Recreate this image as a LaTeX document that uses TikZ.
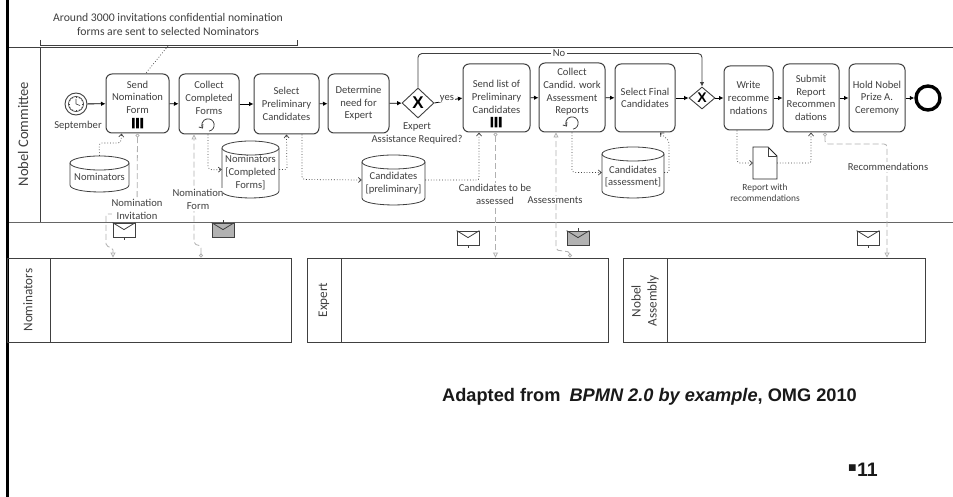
\documentclass[tikz,border=0pt]{standalone}
\usepackage{fontspec}
\setmainfont{Carlito}
\newfontfamily\arialf{Liberation Sans}
\usetikzlibrary{arrows.meta,shapes.geometric,calc}
\definecolor{ink}{HTML}{404040}
\definecolor{msgc}{HTML}{B0B0B0}
\tikzset{
 lbl/.style={text=ink,font=\fontsize{10.6}{12.7}\selectfont,align=center,inner sep=0pt},
 tasknode/.style={draw=ink,line width=1pt,rounded corners=6pt,fill=white,text=ink,font=\fontsize{10.6}{12.7}\selectfont,align=center,inner sep=0pt},
 gate/.style={diamond,draw=ink,line width=.9pt,fill=white,inner sep=0pt,font=\arialf\bfseries\fontsize{17}{17}\selectfont},
 seq/.style={draw=black,line width=.8pt,-{Latex[length=4.5pt,width=4.5pt]}},
 seqg/.style={draw=ink,line width=.9pt,rounded corners=4pt},
 dots/.style={draw=ink,line width=.7pt,dash pattern=on .8pt off 2pt,-{Straight Barb[length=3pt,width=5pt,open]}},
 dotp/.style={draw=ink,line width=.7pt,dash pattern=on .8pt off 2pt},
 msg/.style={draw=msgc,line width=.8pt,dash pattern=on 6pt off 3pt,rounded corners=2pt,{Circle[open,length=4pt,width=4pt,fill=white]}-{Triangle[open,length=5pt,width=5pt,fill=white]}},
 envw/.style={rectangle,draw=ink,line width=.8pt,fill=white,minimum width=22pt,minimum height=14pt,inner sep=0pt},
 envg/.style={rectangle,draw=ink,line width=.8pt,fill=black!30,minimum width=22pt,minimum height=14pt,inner sep=0pt},
 pool/.style={draw=ink,line width=.9pt,rectangle,inner sep=0pt},
 db/.style={rectangle,inner sep=0pt},
}
\newcommand{\dbshape}[5]{% name x1 y1 x2 y2
 \node[db,minimum width=#4pt-#2pt,minimum height=#5pt-#3pt] (#1) at ({(#2+#4)/2},{(#3+#5)/2}) {};
 \draw[ink,line width=.8pt,fill=white] (#2,#3+7) -- (#2,#5-7) .. controls (#2,#5+2.3) and (#4,#5+2.3) .. (#4,#5-7) -- (#4,#3+7);
 \draw[ink,line width=.8pt,fill=white] ({(#2+#4)/2},#3+7) ellipse [x radius={(#4-#2)/2},y radius=7];
}
\newcommand{\envflap}[1]{\draw[ink,line width=.8pt] (#1.north west) -- ([yshift=-7pt]#1.north) -- (#1.north east);}
\newcommand{\barsat}[2]{\fill[black] (#1-5.5,#2-5) rectangle ++(2.6,10.5) (#1-1.3,#2-5) rectangle ++(2.6,10.5) (#1+2.9,#2-5) rectangle ++(2.6,10.5);}
\newcommand{\loopat}[2]{\draw[ink,line width=.8pt,-{Straight Barb[length=3pt,width=5pt]}] (#1,#2) ++(80:6.2) arc[start angle=80,end angle=-215,radius=6.2];}
\begin{document}
\begin{tikzpicture}[x=1pt,y=-1pt]
\useasboundingbox (0,0) rectangle (953,497);
\fill[white] (0,0) rectangle (953,497);
% frame
\fill[black] (6,0) rectangle (9,497);
\coordinate (poolTL) at (9,47.5); \coordinate (poolTR) at (953,47.5);
\coordinate (poolBL) at (9,222.5); \coordinate (poolBR) at (953,222.5);
\coordinate (headT) at (40,47.5); \coordinate (headB) at (40,222.5);
\draw[ink,line width=.9pt] (poolTL) -- (poolTR);
\draw[ink!80,line width=1.3pt] (poolBL) -- (poolBR);
\draw[ink,line width=.9pt] (headT) -- (headB);
\node[lbl,rotate=90,font=\fontsize{14.6}{14}\selectfont] (committee) at (23,134) {Nobel Committee};
% annotation
\node[lbl,font=\fontsize{11.7}{14}\selectfont] (anno) at (168,24) {Around 3000 invitations confidential nomination\\forms are sent to selected Nominators};
\coordinate (brL) at (40,40); \coordinate (brLb) at (40,45); \coordinate (brRb) at (297,45); \coordinate (brR) at (297,40); \coordinate (brM) at (168,46);
\draw[ink,line width=.8pt] (brL) -- (brLb) -- (brRb) -- (brR);
% lower pools
\node[pool,minimum width=284pt,minimum height=84pt] (poolN) at (149,300) {};
\node[pool,minimum width=301pt,minimum height=84pt] (poolE) at (457.5,300) {};
\node[pool,minimum width=302pt,minimum height=84pt] (poolA) at (774,300) {};
\coordinate (nA) at (50.5,258); \coordinate (nB) at (50.5,342);
\coordinate (eA) at (341,258); \coordinate (eB) at (341,342);
\coordinate (aA) at (667,258); \coordinate (aB) at (667,342);
\draw[ink,line width=.9pt] (nA) -- (nB) (eA) -- (eB) (aA) -- (aB);
\node[lbl,rotate=90,font=\fontsize{13.2}{15}\selectfont] (nomL) at (28,300) {Nominators};
\node[lbl,rotate=90,font=\fontsize{13.2}{15}\selectfont] (expL) at (324,300) {Expert};
\node[lbl,rotate=90,font=\fontsize{13.2}{16}\selectfont] (asmL) at (645,301) {Nobel\\Assembly};
% data stores
\dbshape{dbNom}{70}{156}{129}{192}
\dbshape{dbComp}{222}{141}{279}{198}
\dbshape{dbPrel}{362}{155}{425}{205}
\dbshape{dbAss}{602}{147}{664}{198}
\node[lbl] (dbNomT) at (99.5,177) {Nominators};
\node[lbl] (dbCompT) at (250.5,172.7) {Nominators\\{[Completed}\\Forms]};
\node[lbl] (dbPrelT) at (393.5,183.5) {Candidates\\{[preliminary]}};
\node[lbl] (dbAssT) at (633,176.5) {Candidates\\{[assessment]}};
% events
\node[circle,draw=ink,line width=.9pt,fill=white,minimum size=22pt,inner sep=0pt] (start) at (76,104) {};
\node[circle,draw=ink,line width=.7pt,minimum size=15pt,inner sep=0pt] (clock) at (76,104) {};
\draw[ink,line width=.6pt] (clock.center) -- ++(0,-5) (clock.center) -- ++(4,1.5);
\foreach \a in {0,30,...,330}{\draw[ink,line width=.4pt] (clock.center) ++(\a:6.2) -- ++(\a:1.2);}
\node[lbl] (sept) at (78,126) {September};
\node[circle,draw=black,line width=3.4pt,fill=white,minimum size=24pt,inner sep=0pt] (endev) at (928,98) {};
% tasks
\node[tasknode,minimum width=63pt,minimum height=59pt] (send) at (137.5,103.5) {Send\\Nomination\\Form\\~};
\node[tasknode,minimum width=60pt,minimum height=60pt] (collect) at (209,104) {Collect\\Completed\\Forms\\~};
\node[tasknode,minimum width=65pt,minimum height=60pt] (select) at (286.5,104) {Select\\Preliminary\\Candidates};
\node[tasknode,minimum width=61pt,minimum height=59pt] (determine) at (358.5,103.5) {Determine\\need for\\Expert};
\node[gate,shape aspect=1.07,minimum width=32pt,minimum height=30pt] (gwA) at (418,103) {X};
\node[tasknode,minimum width=67pt,minimum height=68pt] (sendlist) at (496.5,98) {\raisebox{2pt}{Send list of}\\\raisebox{2pt}{Preliminary}\\\raisebox{2pt}{Candidates}};
\node[tasknode,minimum width=66pt,minimum height=69pt] (candid) at (572,97.5) {Collect\\Candid. work\\Assessment\\Reports\\~};
\node[tasknode,minimum width=60pt,minimum height=68pt] (final) at (645,98) {Select Final\\Candidates};
\node[gate,shape aspect=1.18,minimum width=26pt,minimum height=22pt,font=\arialf\bfseries\fontsize{14}{14}\selectfont] (gwB) at (702,98) {X};
\node[tasknode,minimum width=49pt,minimum height=64pt] (write) at (748.5,98) {Write\\recomme\\ndations};
\node[tasknode,minimum width=56pt,minimum height=68pt] (submit) at (811,98) {Submit\\Report\\Recommen\\dations};
\node[tasknode,minimum width=56pt,minimum height=68pt] (hold) at (877,98) {Hold Nobel\\Prize A.\\Ceremony};
\barsat{137.5}{123}
\barsat{496}{122}
\loopat{208}{125}
\loopat{572}{123}
% document
\coordinate (docA) at (753,147); \coordinate (docB) at (768,147); \coordinate (docC) at (777,156); \coordinate (docD) at (777,179); \coordinate (docE) at (753,179);
\draw[black!85,line width=.9pt,fill=white] (docA) -- (docB) -- (docC) -- (docD) -- (docE) -- cycle;
\coordinate (docF) at (768,156);
\draw[ink,line width=.7pt] (docB) -- (docF) -- (docC);
\node[lbl,font=\fontsize{9.4}{11}\selectfont] (docL) at (765,192.5) {Report with\\recommendations};
% sequence flows
\draw[seq] (start) -- (send);
\draw[seq] (send) -- (collect);
\draw[seq] (collect) -- (select);
\draw[seq] (select) -- (determine);
\draw[seq] (determine) -- (gwA);
\draw[seq] (gwA.east) -- (sendlist.west);
\draw[seq] (sendlist) -- (candid);
\draw[seq] (candid) -- (final);
\draw[seq] (final) -- (gwB);
\draw[seq] (gwB) -- (write);
\draw[seq] (write) -- (submit);
\draw[seq] (submit) -- (hold);
\draw[seq] (hold) -- (endev);
\coordinate (noA) at (418,53.5); \coordinate (noB) at (702,53.5);
\draw[seqg,-{Latex[length=4.5pt,width=4.5pt]}] (gwA.north) -- (noA) -- (noB) -- (gwB.north);
\node[lbl,fill=white,inner xsep=2pt] (noL) at (559,53) {No};
\node[lbl,fill=white,inner xsep=1pt] (yesL) at (447,99) {yes};
\node[lbl] (gwAL) at (417,133.5) {Expert\\Assistance Required?};
% data associations
\draw[dotp] (brM) -- (send.75);
\coordinate (w1) at (99,143); \coordinate (w2) at (121,143);
\draw[dots,rounded corners=3pt] (dbNom.north) -- (w1) -- (w2) -- ([xshift=-16pt]send.south);
\coordinate (w3) at (208,170);
\draw[dots,rounded corners=4pt] ([xshift=-1pt]collect.south) -- (w3) -- (dbComp.west);
\coordinate (w4) at (287,169.5);
\draw[dots,rounded corners=2pt] (dbComp.east) -- (w4) -- (select.south);
\coordinate (w5) at (302,179.5);
\draw[dots,rounded corners=3pt] ([xshift=15.5pt]select.south) -- (w5) -- (dbPrel.west);
\coordinate (w6) at (479,180);
\draw[dots,rounded corners=2pt] (dbPrel.east) -- (w6) -- ([xshift=-17.5pt]sendlist.south);
\coordinate (w7) at (572,172.5);
\draw[dots,rounded corners=3pt] (candid.south) -- (w7) -- (dbAss.west);
\coordinate (w8) at (669,172.5); \coordinate (w9) at (669,141);
\draw[dots,rounded corners=2pt] (dbAss.east) -- (w8) -- (w9) -- ([xshift=15pt]final.south);
\coordinate (w10) at (737,163);
\draw[dots,rounded corners=3pt] ([xshift=-11.5pt]write.south) -- (w10) -- (docE |- w10);
\coordinate (w11) at (811,163);
\draw[dots,rounded corners=2pt] (docD |- w10) -- (w11) -- (submit.south);
% message flows
\coordinate (m1) at (137,214); \coordinate (m2) at (106,214); \coordinate (m3) at (106,246); \coordinate (m4) at (113,248);
\draw[msg] (send.south) -- (m1) -- (m2) -- (m3) -- (m4) -- (m4 |- poolN.north);
\coordinate (m5) at (201,246); \coordinate (m6) at (194,244);
\draw[msg] (m5 |- poolN.north) -- (m5) -- (m6) -- ([xshift=-15pt]collect.south);
\draw[msg] ([xshift=-1pt]sendlist.south) -- ([xshift=-1pt]sendlist.south |- poolE.north);
\coordinate (m7) at (570,252); \coordinate (m8) at (556,250);
\draw[msg] (m7 |- poolE.north) -- (m7) -- (m8) -- ([xshift=-16pt]candid.south);
\coordinate (m9) at (825,144); \coordinate (m10) at (887,144);
\draw[msg,rounded corners=3pt] ([xshift=14pt]submit.south) -- (m9) -- (m10) -- (m10 |- poolA.north);
\node[lbl,fill=white,inner ysep=1pt] (mL1) at (137,209.5) {Nomination\\Invitation};
\node[lbl,fill=white,inner ysep=1pt] (mL2) at (198,199.5) {Nomination\\Form};
\node[lbl,fill=white,inner ysep=1pt] (mL3) at (495,194.5) {Candidates to be\\assessed};
\node[lbl,fill=white,inner ysep=1pt] (mL4) at (555,200) {Assessments};
\node[lbl,fill=white,inner ysep=1pt] (mL5) at (888,167) {Recommendations};
% envelopes
\node[envw] (env1) at (124,230) {}; \envflap{env1}
\node[envg] (env2) at (223,230) {}; \envflap{env2}
\node[envw] (env3) at (468,238) {}; \envflap{env3}
\node[envg] (env4) at (578,238) {}; \envflap{env4}
\node[envw] (env5) at (868,238) {}; \envflap{env5}
\draw[ink,line width=.6pt] (env1.south) -- ++(0,3) (env3.south) -- ++(0,3) (env5.south) -- ++(0,3) (env2.north) -- ++(0,-3) (env4.north) -- ++(0,-3);
% footer
\node[inner sep=0pt,anchor=west,text=black!90,font=\arialf\bfseries\fontsize{18.2}{20}\selectfont] (src) at (442,397) {Adapted from\hspace{4pt} \textit{BPMN 2.0 by example}, OMG 2010};
\node[inner sep=0pt,anchor=east,text=black!90,font=\arialf\bfseries\fontsize{19.5}{20}\selectfont] (pg) at (878,470) {{\fontsize{27}{20}\selectfont ▪}11};
\end{tikzpicture}
\end{document}
